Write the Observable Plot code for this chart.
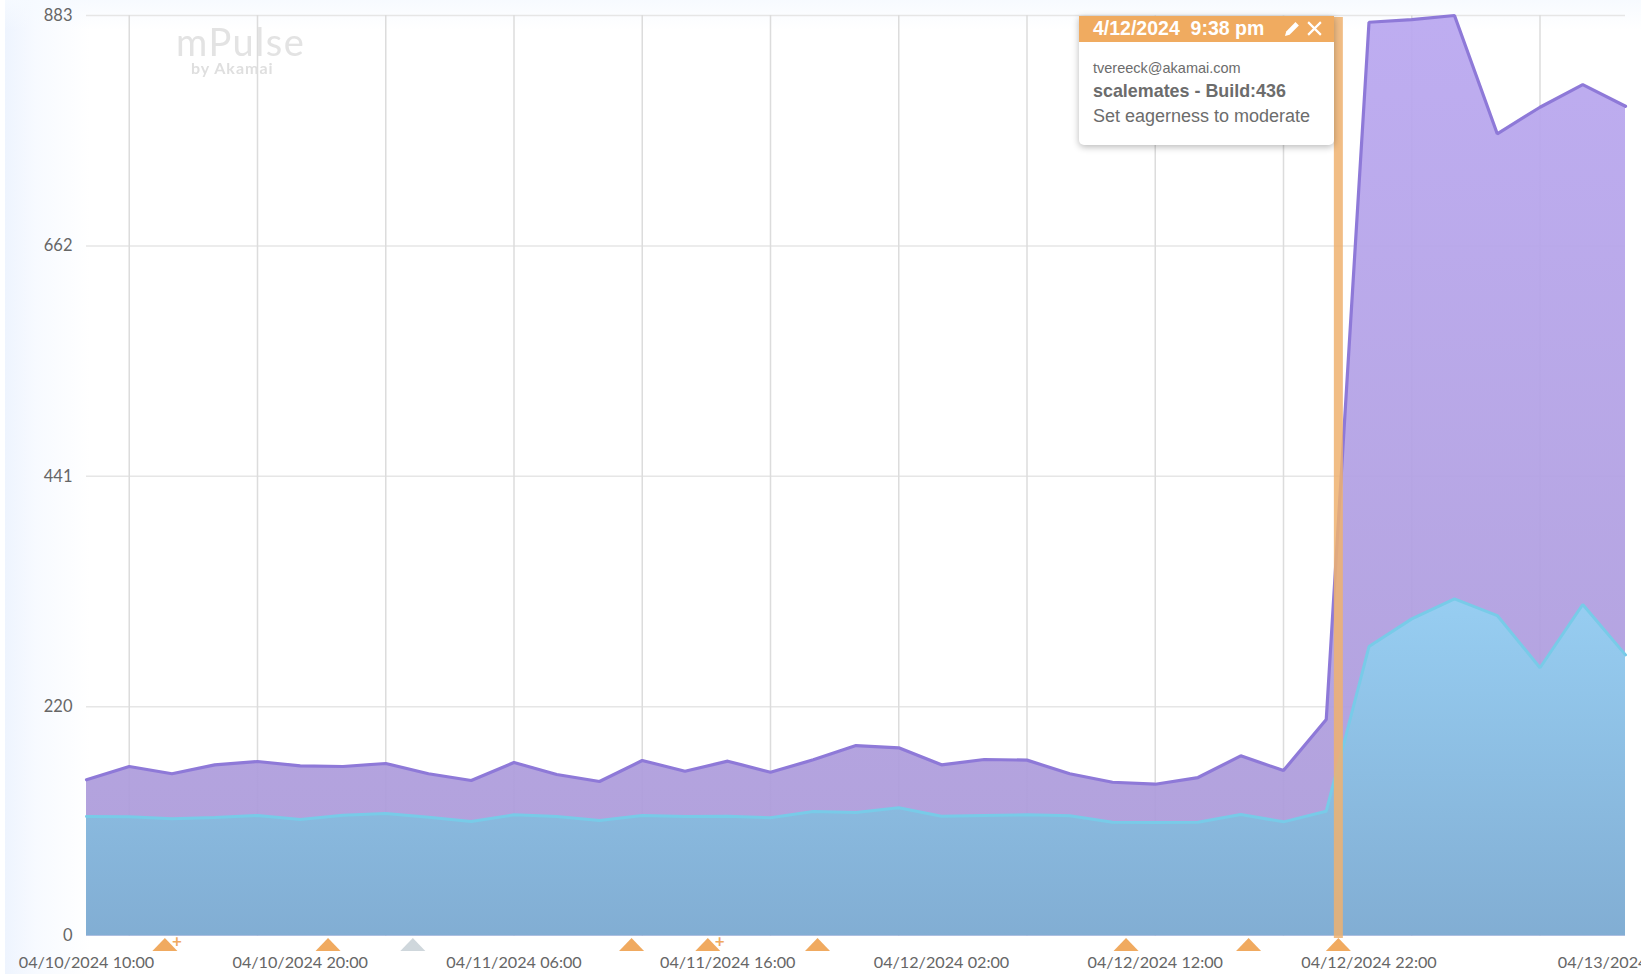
<!DOCTYPE html>
<html>
<head>
<meta charset="utf-8">
<script src="https://cdn.jsdelivr.net/npm/d3@7"></script>
<script src="https://cdn.jsdelivr.net/npm/@observablehq/plot@0.6"></script>
<style>
html,body{margin:0;padding:0;width:1641px;height:974px;overflow:hidden;background:#fff}
#bg{position:absolute;left:5px;top:0;width:1636px;height:974px;
 background:linear-gradient(to bottom,rgba(246,250,255,.9) 0,rgba(255,255,255,0) 30px),linear-gradient(to right,#eef4fe 0,#f7faff 30px,#ffffff 85px)}
#chart{position:absolute;left:0;top:0}
#chart svg{background:transparent;overflow:hidden;display:block}
#wm{position:absolute;left:172px;top:21px;color:#e3e3e3;font-family:Lato,sans-serif;filter:blur(.5px);width:140px}
#wm .a{font-size:38px;line-height:40px;letter-spacing:1.500px;padding-left:4px}
#wm .b{font-size:16px;line-height:14px;font-weight:700;color:#dfdfdf;letter-spacing:1px;padding-left:19px}
#note{position:absolute;left:1079px;top:16px;width:255px;height:129px;background:#fff;border-radius:0 0 5px 5px;box-shadow:0 2px 7px rgba(0,0,0,.28);font-family:"Liberation Sans",Arial,sans-serif;color:#6c6c6c}
#note .h{height:26px;background:#f0ab60;color:#fff;font-weight:700;font-size:19.500px;line-height:25px;padding-left:14px;white-space:pre;position:relative}
#note svg{position:absolute;top:4px}
#note .e{position:absolute;left:14px;top:43px;font-size:14.500px;line-height:18px}
#note .t{position:absolute;left:14px;top:65px;font-size:17.900px;line-height:20px;font-weight:700}
#note .d{position:absolute;left:14px;top:90px;font-size:18px;line-height:20px}
</style>
</head>
<body>
<div id="bg"></div>
<div id="chart"></div>
<div id="wm"><div class="a">mPulse</div><div class="b">by Akamai</div></div>
<div id="note">
 <div class="h">4/12/2024  9:38 pm<svg style="left:205px" width="17" height="17" viewBox="0 0 17 17"><path d="M1 16l1.200-4.600L11.500 2.100l3.400 3.400L5.600 14.800z" fill="#fff"/></svg><svg style="left:227px" width="17" height="17" viewBox="0 0 16 16"><path d="M2 2L14 14M14 2L2 14" stroke="#fff" stroke-width="2"/></svg></div>
 <div class="e">tvereeck@akamai.com</div>
 <div class="t">scalemates - Build:436</div>
 <div class="d">Set eagerness to moderate</div>
</div>
<script>
const start = Date.UTC(2024, 3, 10, 10);
const stepHours = 2;
const totalValues = [149.8,162.6,155.6,164.2,167.4,163.2,162.6,165.5,155.6,149.2,166.4,154.9,148.2,168.3,158.1,167.7,157.1,169,182.7,180.5,164.2,169.3,168.7,155.6,147.5,145.6,152,172.8,158.7,207.7,876.5,879.1,883,769.5,795,816.7,795.9];
const cachedValues = [114.6,114.3,112.4,113.7,115.6,111.7,115.9,117.5,114,109.8,116.3,114.6,110.8,115.6,114.6,114.9,113.5,119.4,118.5,123,114.9,115.6,116.3,115.3,109.2,108.9,109.2,116.5,109.5,119.7,277.7,304.2,323.4,307.4,257.3,318,269.7];
const yTicks = [0,220,441,662,883];
const xLabelTimes = ["2024-04-10T10:00Z","2024-04-10T20:00Z","2024-04-11T06:00Z","2024-04-11T16:00Z","2024-04-12T02:00Z","2024-04-12T12:00Z","2024-04-12T22:00Z","2024-04-13T10:00Z"];
const gridTimes = ["2024-04-10T12:00Z","2024-04-10T18:00Z","2024-04-11T00:00Z","2024-04-11T06:00Z","2024-04-11T12:00Z","2024-04-11T18:00Z","2024-04-12T00:00Z","2024-04-12T06:00Z","2024-04-12T12:00Z","2024-04-12T18:00Z","2024-04-13T00:00Z","2024-04-13T06:00Z"];
const orangeMarkers = ["2024-04-10T13:40Z","2024-04-10T21:18Z","2024-04-11T11:30Z","2024-04-11T15:04Z","2024-04-11T20:12Z","2024-04-12T10:38Z","2024-04-12T16:22Z","2024-04-12T20:34Z"];
const grayMarkers = ["2024-04-11T01:16Z"];
const plusMarkers = ["2024-04-10T13:40Z","2024-04-11T15:04Z"];
const selectedNote = ["2024-04-12T20:34Z"];

const parse = s => new Date(s);
const rows = totalValues.map((v,i)=>({t:new Date(start+i*stepHours*3600e3),total:v,cached:cachedValues[i]}));
const flatTriangle = {draw(c){c.moveTo(0,-6.500);c.lineTo(12.500,6.500);c.lineTo(-12.500,6.500);c.closePath();}};
const fmt = d3.utcFormat("%m/%d/%Y %H:%M");
const defs = () => {
  const s = d3.create("svg:defs");
  const add=(id,a,b)=>{const g=s.append("linearGradient").attr("id",id).attr("x1",0).attr("x2",0).attr("y1",0).attr("y2",1);
    g.append("stop").attr("offset",0).attr("stop-color",a);g.append("stop").attr("offset",1).attr("stop-color",b);};
  add("gp","#baa8f0","#ac9bd8");
  add("gb","#96cff2","#80aed3");
  return s.node();
};
const chart = Plot.plot({
  width:1641,height:974,
  marginLeft:86,marginRight:16,marginTop:15,marginBottom:38.500,
  style:{background:"transparent"},
  x:{type:"utc",domain:[new Date(start),new Date(start+72*3600e3)]},
  y:{domain:[0,883]},
  marks:[
    defs,
    Plot.ruleY(yTicks.slice(1),{y:d=>d,stroke:"#e6e6e6",strokeWidth:1.500}),
    Plot.ruleX(gridTimes.map(parse),{x:d=>d,stroke:"#dcdcdc",strokeWidth:1.500}),
    Plot.areaY(rows,{x:"t",y:"total",fill:"url(#gp)",fillOpacity:.94}),
    Plot.lineY(rows,{x:"t",y:"total",stroke:"#8e79d8",strokeWidth:3.200,strokeLinejoin:"miter"}),
    Plot.areaY(rows,{x:"t",y:"cached",fill:"url(#gb)",fillOpacity:.97}),
    Plot.lineY(rows,{x:"t",y:"cached",stroke:"#78cbe8",strokeWidth:3,strokeLinejoin:"miter"}),
    Plot.ruleX(selectedNote.map(parse),{x:d=>d,y1:-2.500,y2:881,stroke:"#eeb270",strokeOpacity:.85,strokeWidth:9}),
    Plot.dot(orangeMarkers.map(parse),{x:d=>d,y:0,dy:8.500,symbol:flatTriangle,fill:"#f0aa60",stroke:"none"}),
    Plot.dot(grayMarkers.map(parse),{x:d=>d,y:0,dy:8.500,symbol:flatTriangle,fill:"#cfd7dc",stroke:"none"}),
    Plot.text(plusMarkers.map(parse),{x:d=>d,y:0,dx:12,dy:6,text:()=>"+",fill:"#f0a95f",fontSize:17,fontWeight:700,fontFamily:"Lato"}),
    Plot.axisY(yTicks,{tickSize:0,tickPadding:14,label:null,fontSize:16.500,fontFamily:"Lato",color:"#666",tickFormat:d=>String(d)}),
    Plot.axisX(xLabelTimes.map(parse),{tickSize:0,tickPadding:20,label:null,fontSize:16.200,fontFamily:"Lato",color:"#666",tickFormat:fmt,textOverflow:null})
  ]
});
document.getElementById("chart").append(chart);
</script>
</body>
</html>
